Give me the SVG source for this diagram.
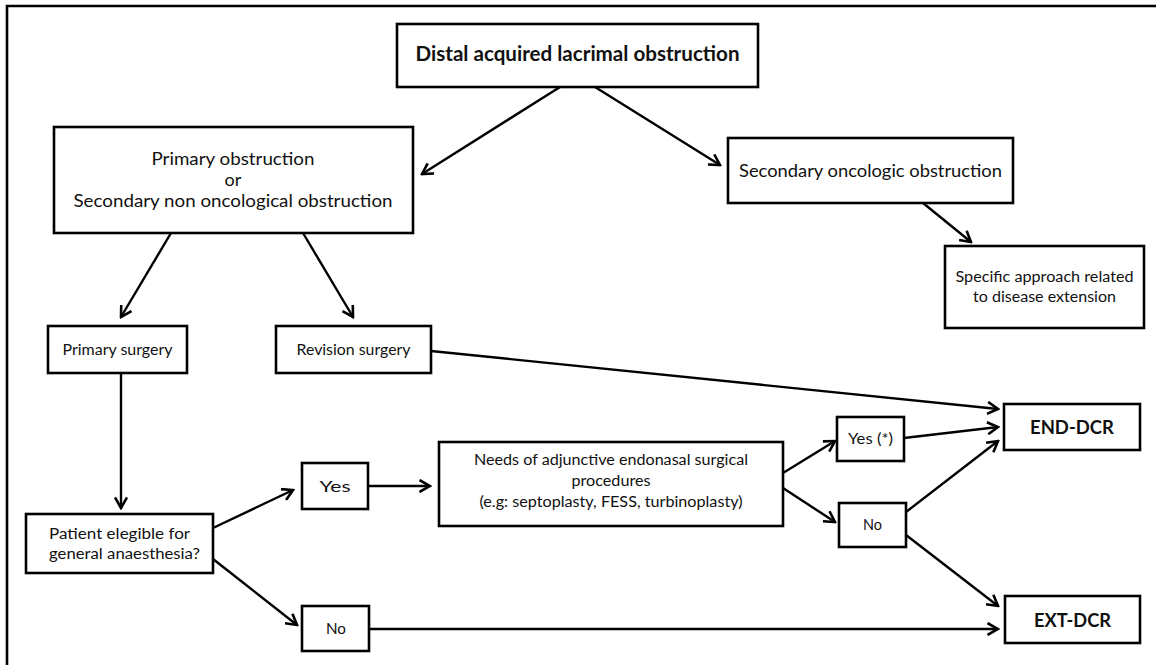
<svg xmlns="http://www.w3.org/2000/svg" width="1156" height="665" viewBox="0 0 1156 665">
<style>
.box{fill:#fff;stroke:#000;stroke-width:2.6}
.t{font-family:Lato,"Open Sans","Liberation Sans",sans-serif;fill:#111;text-anchor:middle}
.b{font-weight:bold}
.c{fill:none;stroke:#000;stroke-width:2.4}
.a{marker-end:url(#arr)}
</style>
<defs>
<marker id="arr" markerUnits="userSpaceOnUse" viewBox="0 0 14 14" refX="12" refY="7" markerWidth="14" markerHeight="14" orient="auto">
<path d="M1.5,1 L12,7 L1.5,13" fill="none" stroke="#000" stroke-width="2.6" stroke-linejoin="miter"/>
</marker>
</defs>
<rect width="1156" height="665" fill="#fff"/>
<path d="M7,665 V6 H1156" fill="none" stroke="#000" stroke-width="2.6"/>

<g id="connectors">
<line class="c a" x1="560" y1="87" x2="422" y2="174"/>
<line class="c a" x1="595" y1="87" x2="720" y2="165"/>
<line class="c a" x1="923" y1="203" x2="971" y2="242"/>
<line class="c a" x1="171" y1="233" x2="121" y2="317"/>
<line class="c a" x1="303" y1="233" x2="353" y2="317"/>
<line class="c a" x1="431" y1="351" x2="998" y2="409"/>
<line class="c a" x1="121" y1="373" x2="121" y2="508"/>
<line class="c a" x1="213" y1="528" x2="293" y2="490"/>
<line class="c a" x1="213" y1="559" x2="297" y2="625"/>
<line class="c a" x1="368" y1="486" x2="430" y2="486"/>
<line class="c a" x1="369" y1="629" x2="998" y2="629"/>
<line class="c a" x1="783" y1="473" x2="835" y2="441"/>
<line class="c a" x1="783" y1="488" x2="835" y2="522"/>
<line class="c a" x1="904" y1="438" x2="998" y2="427"/>
<line class="c a" x1="906" y1="512" x2="998" y2="441"/>
<line class="c a" x1="906" y1="535" x2="998" y2="606"/>
</g>

<g id="n-title">
<rect class="box" x="397" y="24" width="361" height="63"/>
<text class="t b" x="577.5" y="61" font-size="20.5" textLength="324" lengthAdjust="spacingAndGlyphs">Distal acquired lacrimal obstruction</text>
</g>
<g id="n-primary-obstruction">
<rect class="box" x="54" y="127" width="359" height="106"/>
<text class="t" x="233" y="165" font-size="18" textLength="163" lengthAdjust="spacingAndGlyphs">Primary obstruction</text>
<text class="t" x="233" y="186" font-size="18">or</text>
<text class="t" x="233" y="207" font-size="18" textLength="319" lengthAdjust="spacingAndGlyphs">Secondary non oncological obstruction</text>
</g>
<g id="n-secondary-oncologic">
<rect class="box" x="728" y="138" width="285" height="65"/>
<text class="t" x="870.5" y="177" font-size="18" textLength="263" lengthAdjust="spacingAndGlyphs">Secondary oncologic obstruction</text>
</g>
<g id="n-specific">
<rect class="box" x="945" y="246" width="199" height="82"/>
<text class="t" x="1044.5" y="282" font-size="15.5" textLength="178" lengthAdjust="spacingAndGlyphs">Specific approach related</text>
<text class="t" x="1044.5" y="302" font-size="15.5" textLength="143" lengthAdjust="spacingAndGlyphs">to disease extension</text>
</g>
<g id="n-primary-surgery">
<rect class="box" x="48" y="326" width="139" height="47"/>
<text class="t" x="117.5" y="355" font-size="15.5" textLength="110" lengthAdjust="spacingAndGlyphs">Primary surgery</text>
</g>
<g id="n-revision-surgery">
<rect class="box" x="276" y="326" width="155" height="47"/>
<text class="t" x="353.5" y="355" font-size="15.5" textLength="114" lengthAdjust="spacingAndGlyphs">Revision surgery</text>
</g>
<g id="n-patient">
<rect class="box" x="26" y="514" width="187" height="59"/>
<text class="t" x="119.5" y="539" font-size="15.5" textLength="141" lengthAdjust="spacingAndGlyphs">Patient elegible for</text>
<text class="t" x="124.5" y="559" font-size="15.5" textLength="151" lengthAdjust="spacingAndGlyphs">general anaesthesia?</text>
</g>
<g id="n-yes1">
<rect class="box" x="302" y="463" width="66" height="46"/>
<text class="t" x="335" y="492" font-size="15.5" textLength="31" lengthAdjust="spacingAndGlyphs">Yes</text>
</g>
<g id="n-no1">
<rect class="box" x="302" y="606" width="67" height="45"/>
<text class="t" x="336" y="634" font-size="15.5" textLength="20" lengthAdjust="spacingAndGlyphs">No</text>
</g>
<g id="n-needs">
<rect class="box" x="439" y="442" width="344" height="84"/>
<text class="t" x="611" y="465" font-size="15.5" textLength="274" lengthAdjust="spacingAndGlyphs">Needs of adjunctive endonasal surgical</text>
<text class="t" x="611" y="486" font-size="15.5" textLength="79" lengthAdjust="spacingAndGlyphs">procedures</text>
<text class="t" x="611" y="507" font-size="15.5" textLength="263" lengthAdjust="spacingAndGlyphs">(e.g: septoplasty, FESS, turbinoplasty)</text>
</g>
<g id="n-yes2">
<rect class="box" x="837" y="417" width="67" height="44"/>
<text class="t" x="870.5" y="444" font-size="15.5" textLength="45" lengthAdjust="spacingAndGlyphs">Yes (*)</text>
</g>
<g id="n-no2">
<rect class="box" x="839" y="503" width="67" height="44"/>
<text class="t" x="872.5" y="530" font-size="15.5" textLength="19" lengthAdjust="spacingAndGlyphs">No</text>
</g>
<g id="n-end-dcr">
<rect class="box" x="1004" y="404" width="136" height="46"/>
<text class="t b" x="1072" y="434" font-size="18.5" textLength="84" lengthAdjust="spacingAndGlyphs">END-DCR</text>
</g>
<g id="n-ext-dcr">
<rect class="box" x="1005" y="596" width="135" height="47"/>
<text class="t b" x="1072.5" y="627" font-size="18.5" textLength="77" lengthAdjust="spacingAndGlyphs">EXT-DCR</text>
</g>
</svg>
